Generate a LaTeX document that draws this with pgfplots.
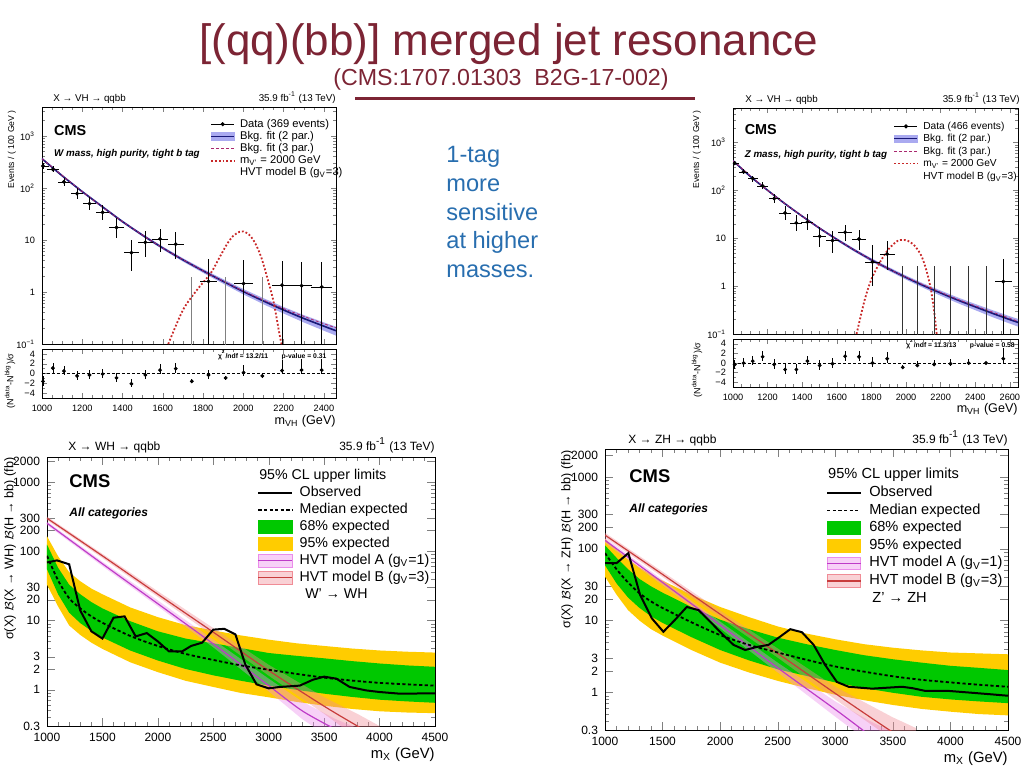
\documentclass[border=0pt]{standalone}
\usepackage{fontspec}
\setmainfont{Liberation Sans}
\usepackage{pgfplots}
\pgfplotsset{compat=1.18}
\definecolor{maroon}{RGB}{124,36,52}
\definecolor{txtblue}{RGB}{40,110,175}
\definecolor{bkgline}{RGB}{25,25,120}
\definecolor{bkgband}{RGB}{170,170,240}
\definecolor{fit3}{RGB}{170,40,110}
\definecolor{sigred}{RGB}{200,40,40}
\definecolor{cmsgreen}{RGB}{0,200,0}
\definecolor{cmsyellow}{RGB}{255,204,0}
\definecolor{hvtA}{RGB}{190,60,200}
\definecolor{hvtB}{RGB}{200,60,60}
\definecolor{hvtAband}{RGB}{235,140,235}
\definecolor{hvtBband}{RGB}{240,140,150}
\newcommand{\fs}[1]{\fontsize{#1}{#1}\selectfont}
\tikzset{tx/.style={inner sep=0pt}}
\begin{document}
\begin{tikzpicture}
\useasboundingbox (0pt,0pt) rectangle (512pt,-384pt);
% ---------------- titles ----------------
\node[tx, anchor=base, text=maroon, font=\fs{22}] at (254.5pt,-27.5pt) {[(qq)(bb)] merged jet resonance};
\node[tx, anchor=base, text=maroon, font=\fs{11.6}] at (250.5pt,-42.5pt) {(CMS:1707.01303\ \ B2G-17-002)};
\draw[maroon, line width=1.5pt] (177.5pt,-49.3pt) -- (347.5pt,-49.3pt);
\node[tx, anchor=base west, text=txtblue, font=\fs{11.8}] at (223pt,-81pt) {1-tag};
\node[tx, anchor=base west, text=txtblue, font=\fs{11.8}] at (223pt,-95.5pt) {more};
\node[tx, anchor=base west, text=txtblue, font=\fs{11.8}] at (223pt,-110pt) {sensitive};
\node[tx, anchor=base west, text=txtblue, font=\fs{11.8}] at (223pt,-124pt) {at higher};
\node[tx, anchor=base west, text=txtblue, font=\fs{11.8}] at (223pt,-138.5pt) {masses.};

% ================= TOP LEFT main =================
\begin{axis}[scale only axis, anchor=north west, tick align=inside, scaled ticks=false,
  axis line style={line width=0.4pt}, clip=true, legend cell align=left,
  major tick length=2.4pt, minor tick length=1.3pt,
  tick label style={font=\fs{4.6}}, minor x tick num=3,
  ymode=log, ymin=0.1, ymax=3600, xticklabels={},
  ytick={0.1,1,10,100,1000},
  yticklabels={10\textsuperscript{−1},1,10,10\textsuperscript{2},10\textsuperscript{3}},
  minor ytick={0.2,0.3,0.4,0.5,0.6,0.7,0.8,0.9,2,3,4,5,6,7,8,9,20,30,40,50,60,70,80,90,200,300,400,500,600,700,800,900,2000,3000},
  at={(21pt,-53.5pt)}, width=147pt, height=118.5pt,
  xmin=1000, xmax=2460, xtick={1000,1200,...,2400},
  legend style={at={(rel axis cs:0.571,0.955)}, anchor=north west, draw=none, fill=none,
    font=\fs{5.6}, row sep=0pt, column sep=2.5pt, inner sep=0pt,
    nodes={inner xsep=0pt, inner ysep=0.35pt, text height=4.2pt, text depth=1.2pt}}]
\addplot[draw=none, fill=bkgband, forget plot] coordinates {
(1000,383) (1100,180) (1200,89) (1300,45.7) (1400,23.7) (1500,13.0) (1600,7.45) (1700,4.46) (1800,2.77) (1900,1.76) (2000,1.14) (2100,0.76) (2200,0.515) (2300,0.36) (2400,0.26) (2460,0.215)
(2460,0.145) (2400,0.18) (2300,0.26) (2200,0.385) (2100,0.58) (2000,0.90) (1900,1.44) (1800,2.33) (1700,3.84) (1600,6.55) (1500,11.6) (1400,21.3) (1300,41.3) (1200,81) (1100,164) (1000,347)};
\addplot[bkgline, line width=0.8pt, smooth, forget plot] coordinates {
(1000,365) (1100,172) (1200,85) (1300,43.5) (1400,22.5) (1500,12.3) (1600,7.0) (1700,4.15) (1800,2.55) (1900,1.6) (2000,1.02) (2100,0.67) (2200,0.45) (2300,0.31) (2400,0.22) (2460,0.18)};
\addplot[fit3, dash pattern=on 1.5pt off 1pt, line width=0.4pt, smooth, forget plot] coordinates {
(1000,365) (1200,85) (1400,22.5) (1600,7.0) (1800,2.56) (1900,1.62) (2000,1.04) (2100,0.70) (2200,0.48) (2300,0.34) (2400,0.245) (2460,0.205)};
\addplot[sigred, densely dotted, line width=0.9pt, smooth, forget plot] coordinates {
(1627,0.1) (1700,0.45) (1770,1.1) (1838,2.3) (1880,4.5) (1920,8.5) (1950,12) (1980,14.3) (2000,14.6) (2030,12.5) (2060,8.5) (2090,4.5) (2120,1.8) (2150,0.65) (2180,0.15) (2195,0.08)};
\addplot[only marks, mark=*, mark size=0.75pt, black, forget plot,
  error bars/.cd, x dir=both, x explicit, y dir=both, y explicit,
  error bar style={line width=0.35pt}, error mark=none]
  table[row sep=\\, x=x, y=y, x error=ex, y error plus=ep, y error minus=em] {
x y ex em ep\\
1005 265 28 30 35\\
1054 228 28 28 32\\
1109 131 30 22 25\\
1174 78 32 17 20\\
1236 50 32 13 16\\
1301 34 34 10 13\\
1370 17.4 35 6.5 9\\
1444 5.7 36 3.2 4.1\\
1513 9.0 38 4.2 6\\
1586 10.5 40 4.5 5.5\\
1664 8.3 40 4 6\\
1827 1.6 43 1.55 2.8\\
2001 1.45 47 1.4 2.7\\
2192 1.35 50 1.3 2.6\\
2289 1.32 50 1.27 2.5\\
2389 1.25 52 1.2 2.5\\
};
\addplot[only marks, mark=*, mark size=0.75pt, gray, forget plot,
  error bars/.cd, y dir=plus, y explicit, error bar style={line width=0.35pt}, error mark=none]
  table[row sep=\\, x=x, y=y, y error plus=ep] {
x y ep\\
1744 0.01 1.9\\
1912 0.01 1.9\\
2094 0.01 1.9\\
};
\addlegendimage{legend image code/.code={\draw[black,line width=0.4pt] (0pt,0pt)--(11.5pt,0pt); \fill[black] (5.75pt,0pt) circle (0.8pt);}}
\addlegendentry{Data (369 events)}
\addlegendimage{legend image code/.code={\fill[bkgband] (0pt,-2pt) rectangle (11.5pt,2pt); \draw[bkgline,line width=0.8pt] (0pt,0pt)--(11.5pt,0pt);}}
\addlegendentry{Bkg. fit (2 par.)}
\addlegendimage{legend image code/.code={\draw[fit3,dash pattern=on 1.5pt off 1pt,line width=0.4pt] (0pt,0pt)--(11.5pt,0pt);}}
\addlegendentry{Bkg. fit (3 par.)}
\addlegendimage{legend image code/.code={\draw[sigred,densely dotted,line width=0.9pt] (0pt,0pt)--(11.5pt,0pt);}}
\addlegendentry{m\textsubscript{V'} = 2000 GeV}
\addlegendimage{empty legend}
\addlegendentry{HVT model B (g\textsubscript{V}=3)}
\node[tx, anchor=base west, font=\bfseries\fs{7.2}] at (rel axis cs:0.04,0.88) {CMS};
\node[tx, anchor=base west, font=\bfseries\itshape\fs{4.9}] at (rel axis cs:0.04,0.79) {W mass, high purity, tight b tag};
\end{axis}
% ratio TL
\begin{axis}[scale only axis, anchor=north west, tick align=inside, scaled ticks=false,
  axis line style={line width=0.4pt}, clip=true,
  major tick length=2.4pt, minor tick length=1.3pt,
  tick label style={font=\fs{4.6}}, minor x tick num=3,
  ymin=-5, ymax=5, ytick={-4,-2,0,2,4}, yticklabels={−4,−2,0,2,4}, minor y tick num=1,
  at={(21pt,-174.5pt)}, width=147pt, height=24.5pt,
  xmin=1000, xmax=2460, xtick={1000,1200,...,2400},
  xticklabels={1000,1200,1400,1600,1800,2000,2200,2400}]
\addplot[black, dash pattern=on 1.5pt off 1pt, line width=0.4pt, forget plot] coordinates {(1000,0) (2460,0)};
\addplot[only marks, mark=*, mark size=0.75pt, black, forget plot,
  error bars/.cd, y dir=both, y explicit, error bar style={line width=0.35pt}, error mark=none]
  table[row sep=\\, x=x, y=y, y error plus=ep, y error minus=em] {
x y em ep\\
1005 -1.6 0.9 1.0\\
1054 1.1 0.9 1.1\\
1109 0.5 0.9 1.1\\
1174 -0.5 0.9 1.1\\
1236 -0.3 0.9 1.1\\
1301 -0.1 0.9 1.1\\
1370 -0.9 0.9 1.1\\
1444 -2.1 0.7 1.0\\
1513 -0.3 0.9 1.1\\
1586 0.7 0.9 1.2\\
1664 1.0 0.9 1.2\\
1744 -1.6 0.4 0.4\\
1827 -0.3 0.8 1.1\\
1912 -0.9 0.4 0.4\\
2001 0.2 0.8 1.6\\
2094 -0.5 0.4 0.4\\
2192 0.6 0.8 2.2\\
2289 0.7 0.8 2.2\\
2389 0.7 0.8 2.2\\
};
\node[tx, anchor=base east, font=\bfseries\fs{3.4}] at (rel axis cs:0.969,0.816) {χ\textsuperscript{2}/ndf = 13.2/11\quad\quad p-value = 0.31};
\end{axis}

% ================= TOP RIGHT main =================
\begin{axis}[scale only axis, anchor=north west, tick align=inside, scaled ticks=false,
  axis line style={line width=0.4pt}, clip=true, legend cell align=left,
  major tick length=2.4pt, minor tick length=1.3pt,
  tick label style={font=\fs{4.6}}, minor x tick num=3,
  ymode=log, ymin=0.1, ymax=5300, xticklabels={},
  ytick={0.1,1,10,100,1000},
  yticklabels={10\textsuperscript{−1},1,10,10\textsuperscript{2},10\textsuperscript{3}},
  minor ytick={0.2,0.3,0.4,0.5,0.6,0.7,0.8,0.9,2,3,4,5,6,7,8,9,20,30,40,50,60,70,80,90,200,300,400,500,600,700,800,900,2000,3000,4000,5000},
  at={(366.5pt,-54pt)}, width=142.5pt, height=113pt,
  xmin=1000, xmax=2647, xtick={1000,1200,...,2600},
  legend style={at={(rel axis cs:0.562,0.948)}, anchor=north west, draw=none, fill=none,
    font=\fs{5.1}, row sep=0pt, column sep=2.5pt, inner sep=0pt,
    nodes={inner xsep=0pt, inner ysep=0.3pt, text height=4.4pt, text depth=1.2pt}}]
\addplot[draw=none, fill=bkgband, forget plot] coordinates {
(1000,436) (1100,205) (1200,105) (1300,55.2) (1400,30.2) (1500,17.1) (1600,10.1) (1700,6.1) (1800,3.83) (1900,2.5) (2000,1.67) (2100,1.14) (2200,0.81) (2300,0.58) (2400,0.425) (2500,0.315) (2600,0.235) (2647,0.207)
(2647,0.143) (2600,0.165) (2500,0.225) (2400,0.315) (2300,0.44) (2200,0.63) (2100,0.92) (2000,1.37) (1900,2.1) (1800,3.27) (1700,5.3) (1600,8.9) (1500,15.5) (1400,27.8) (1300,50.8) (1200,97) (1100,189) (1000,404)};
\addplot[bkgline, line width=0.8pt, smooth, forget plot] coordinates {
(1000,420) (1100,197) (1200,101) (1300,53) (1400,29) (1500,16.3) (1600,9.5) (1700,5.7) (1800,3.55) (1900,2.3) (2000,1.52) (2100,1.03) (2200,0.72) (2300,0.51) (2400,0.37) (2500,0.27) (2600,0.2) (2647,0.175)};
\addplot[fit3, dash pattern=on 1.5pt off 1pt, line width=0.4pt, smooth, forget plot] coordinates {
(1000,420) (1200,101) (1400,29) (1600,9.5) (1800,3.56) (2000,1.54) (2300,0.53) (2647,0.185)};
\addplot[sigred, densely dotted, line width=0.9pt, smooth, forget plot] coordinates {
(1714,0.1) (1760,0.5) (1800,1.4) (1850,3.2) (1900,6) (1950,8.8) (1980,9.2) (2010,8.9) (2050,7) (2090,4.2) (2120,2) (2145,0.8) (2165,0.25) (2180,0.08)};
\addplot[only marks, mark=*, mark size=0.75pt, black, forget plot,
  error bars/.cd, x dir=both, x explicit, y dir=both, y explicit,
  error bar style={line width=0.35pt}, error mark=none]
  table[row sep=\\, x=x, y=y, x error=ex, y error plus=ep, y error minus=em] {
x y ex em ep\\
1010 370 26 35 40\\
1061 245 27 28 32\\
1114 178 28 24 27\\
1171 125 30 20 23\\
1238 68 32 14 17\\
1301 34 33 10 13\\
1366 21 34 7 10\\
1430 22 35 7 10\\
1501 11 37 4.5 6.5\\
1575 9 38 4 5.5\\
1648 13.4 40 4.5 6\\
1728 9.7 41 4 5.5\\
1806 3.2 43 2.2 4\\
1891 4.7 44 2.5 4\\
2562 1.25 50 1.2 2.5\\
};
\addplot[only marks, mark=*, mark size=0.75pt, black!80, forget plot,
  error bars/.cd, y dir=plus, y explicit, error bar style={line width=0.35pt}, error mark=none]
  table[row sep=\\, x=x, y=y, y error plus=ep] {
x y ep\\
1981 0.01 2.6\\
2065 0.01 2.6\\
2162 0.01 2.6\\
2257 0.01 2.6\\
2362 0.01 2.6\\
2462 0.01 2.6\\
};
\addlegendimage{legend image code/.code={\draw[black,line width=0.4pt] (0pt,0pt)--(11.5pt,0pt); \fill[black] (5.75pt,0pt) circle (0.8pt);}}
\addlegendentry{Data (466 events)}
\addlegendimage{legend image code/.code={\fill[bkgband] (0pt,-1.8pt) rectangle (11.5pt,1.8pt); \draw[bkgline,line width=0.7pt] (0pt,0pt)--(11.5pt,0pt);}}
\addlegendentry{Bkg. fit (2 par.)}
\addlegendimage{legend image code/.code={\draw[fit3,dash pattern=on 1.5pt off 1pt,line width=0.6pt] (0pt,0pt)--(11.5pt,0pt);}}
\addlegendentry{Bkg. fit (3 par.)}
\addlegendimage{legend image code/.code={\draw[sigred,densely dotted,line width=0.9pt] (0pt,0pt)--(11.5pt,0pt);}}
\addlegendentry{m\textsubscript{V'} = 2000 GeV}
\addlegendimage{empty legend}
\addlegendentry{HVT model B (g\textsubscript{V}=3)}
\node[tx, anchor=base west, font=\bfseries\fs{7.2}] at (rel axis cs:0.04,0.885) {CMS};
\node[tx, anchor=base west, font=\bfseries\itshape\fs{4.9}] at (rel axis cs:0.04,0.78) {Z mass, high purity, tight b tag};
\end{axis}
% ratio TR
\begin{axis}[scale only axis, anchor=north west, tick align=inside, scaled ticks=false,
  axis line style={line width=0.4pt}, clip=true,
  major tick length=2.4pt, minor tick length=1.3pt,
  tick label style={font=\fs{4.6}}, minor x tick num=3,
  ymin=-5, ymax=5, ytick={-4,-2,0,2,4}, yticklabels={−4,−2,0,2,4}, minor y tick num=1,
  at={(366.5pt,-169.5pt)}, width=142.5pt, height=24pt,
  xmin=1000, xmax=2647, xtick={1000,1200,...,2600},
  xticklabels={1000,1200,1400,1600,1800,2000,2200,2400,2600}]
\addplot[black, dash pattern=on 1.5pt off 1pt, line width=0.4pt, forget plot] coordinates {(1000,0) (2647,0)};
\addplot[only marks, mark=*, mark size=0.75pt, black, forget plot,
  error bars/.cd, y dir=both, y explicit, error bar style={line width=0.35pt}, error mark=none]
  table[row sep=\\, x=x, y=y, y error plus=ep, y error minus=em] {
x y em ep\\
1010 -0.3 0.9 1.0\\
1061 0.0 0.9 1.0\\
1114 0.4 0.9 1.1\\
1171 1.3 0.9 1.1\\
1238 -0.3 0.9 1.1\\
1301 -1.35 0.9 1.1\\
1366 -1.35 0.9 1.1\\
1430 0.4 0.9 1.1\\
1501 -0.5 0.9 1.1\\
1575 -0.15 0.9 1.1\\
1648 1.4 0.9 1.2\\
1728 1.3 0.9 1.2\\
1806 0.0 0.9 1.3\\
1891 0.9 0.9 1.3\\
1981 -0.9 0.4 0.4\\
2065 -0.5 0.4 0.9\\
2162 -0.3 0.4 0.9\\
2257 -0.15 0.4 0.9\\
2362 0.0 0.4 0.9\\
2462 0.0 0.3 0.3\\
2562 0.9 0.8 2.2\\
};
\node[tx, anchor=base east, font=\bfseries\fs{3.4}] at (rel axis cs:0.99,0.833) {χ\textsuperscript{2}/ndf = 11.3/13\quad\quad p-value = 0.58};
\end{axis}

% ================= BOTTOM LEFT =================
\begin{axis}[scale only axis, anchor=north west, tick align=inside, scaled ticks=false,
  axis line style={line width=0.4pt}, clip=true, legend cell align=left,
  xmin=1000, xmax=4500, ymode=log, ymin=0.3, ymax=2300,
  major tick length=4pt, minor tick length=2pt,
  tick label style={font=\fs{6}},
  xtick={1000,1500,...,4500}, minor x tick num=4,
  xticklabels={1000,1500,2000,2500,3000,3500,4000,4500},
  ytick={0.3,1,2,3,10,20,30,100,200,300,1000,2000},
  yticklabels={0.3,1,2,3,10,20,30,100,200,300,1000,2000},
  minor ytick={0.4,0.5,0.6,0.7,0.8,0.9,4,5,6,7,8,9,40,50,60,70,80,90,400,500,600,700,800,900},
  at={(23.5pt,-228.5pt)}, width=194pt, height=134.5pt,
  legend style={at={(rel axis cs:0.541,0.9606)}, anchor=north west, draw=none, fill=none,
    font=\fs{7.1}, row sep=0.7pt, column sep=3.2pt, inner sep=0pt,
    nodes={inner xsep=0pt, inner ysep=0.4pt, text height=5.3pt, text depth=1.7pt}}]
\addplot[draw=none, fill=cmsyellow, forget plot] coordinates {
(1000,165) (1100,85) (1200,50) (1300,37) (1400,29) (1500,24) (1750,15.5) (2000,11.2) (2250,8.6) (2500,7.2) (2750,6.1) (3000,5.3) (3250,4.7) (3500,4.3) (3750,3.95) (4000,3.7) (4250,3.55) (4500,3.45)
(4500,0.46) (4250,0.47) (4000,0.49) (3750,0.53) (3500,0.59) (3250,0.67) (3000,0.78) (2750,0.9) (2500,1.1) (2250,1.35) (2000,1.8) (1750,2.5) (1500,3.9) (1400,4.8) (1300,6.2) (1200,8.5) (1100,16) (1000,33)};
\addplot[draw=none, fill=cmsgreen, forget plot] coordinates {
(1000,125) (1100,58) (1200,33) (1300,24) (1400,18.5) (1500,15) (1750,9.8) (2000,7.0) (2250,5.5) (2500,4.7) (2750,4.0) (3000,3.4) (3250,3.1) (3500,2.85) (3750,2.6) (4000,2.4) (4250,2.25) (4500,2.15)
(4500,0.65) (4250,0.68) (4000,0.72) (3750,0.79) (3500,0.88) (3250,1.0) (3000,1.15) (2750,1.35) (2500,1.62) (2250,2.0) (2000,2.65) (1750,3.7) (1500,5.7) (1400,7.1) (1300,9.2) (1200,13) (1100,24) (1000,55)};
\addplot[draw=none, fill=hvtAband, fill opacity=0.4, forget plot] coordinates {
(1000,270) (1500,71) (2000,19.5) (2500,5.3) (3000,1.45) (3300,0.68) (3600,0.38) (3800,0.28)
(3800,0.12) (3600,0.18) (3300,0.38) (3000,0.95) (2500,4.1) (2000,16) (1500,61) (1000,240)};
\addplot[draw=none, fill=hvtBband, fill opacity=0.4, forget plot] coordinates {
(1000,318) (1500,92) (2000,26.5) (2500,7.8) (3000,2.3) (3500,0.78) (3800,0.45) (4000,0.3)
(4000,0.12) (3800,0.2) (3500,0.45) (3000,1.6) (2500,6.0) (2000,22) (1500,80) (1000,282)};
\addplot[hvtA, line width=0.6pt, smooth, forget plot] coordinates {
(1000,255) (1500,66) (2000,17.5) (2500,4.6) (3000,1.15) (3300,0.5) (3600,0.27)};
\addplot[hvtB, line width=0.6pt, smooth, forget plot] coordinates {
(1000,300) (1500,86) (2000,24) (2500,6.8) (3000,1.9) (3500,0.58) (3800,0.3) (3900,0.24)};
\addplot[black, line width=0.9pt, dash pattern=on 1.6pt off 1.2pt, smooth, forget plot] coordinates {
(1000,86) (1100,38) (1200,21) (1300,15) (1400,11.5) (1500,9.3) (1750,6.0) (2000,4.3) (2250,3.3) (2500,2.7) (2750,2.25) (3000,1.95) (3250,1.7) (3500,1.5) (3750,1.36) (4000,1.26) (4250,1.2) (4500,1.15)};
\addplot[black, line width=1pt, forget plot] coordinates {
(1000,69) (1090,74) (1200,65) (1300,14) (1400,7) (1500,5.5) (1600,11) (1700,11.5) (1800,5.9) (1900,6.6) (2000,5.0) (2100,3.6) (2220,3.6) (2300,4.3) (2400,4.8) (2500,7.4) (2600,7.6) (2700,6.3) (2790,2.3) (2890,1.2) (3000,1.05) (3100,1.1) (3280,1.15) (3400,1.4) (3500,1.55) (3610,1.45) (3730,1.1) (3880,0.98) (4000,0.93) (4180,0.88) (4500,0.89)};
\addlegendimage{empty legend}
\addlegendentry{\hspace*{-20.2pt}95\% CL upper limits}
\addlegendimage{legend image code/.code={\draw[black,line width=1pt] (0pt,0pt)--(17pt,0pt);}}
\addlegendentry{Observed}
\addlegendimage{legend image code/.code={\draw[black,line width=0.9pt,dash pattern=on 1.6pt off 1.2pt] (0pt,0pt)--(17pt,0pt);}}
\addlegendentry{Median expected}
\addlegendimage{legend image code/.code={\fill[cmsgreen] (0pt,-3.2pt) rectangle (17pt,3.2pt);}}
\addlegendentry{68\% expected}
\addlegendimage{legend image code/.code={\fill[cmsyellow] (0pt,-3.2pt) rectangle (17pt,3.2pt);}}
\addlegendentry{95\% expected}
\addlegendimage{legend image code/.code={\fill[hvtAband,fill opacity=0.4] (0pt,-3.2pt) rectangle (17pt,3.2pt); \draw[hvtA,line width=0.6pt] (0pt,0pt)--(17pt,0pt);}}
\addlegendentry{HVT model A (g\textsubscript{V}=1)}
\addlegendimage{legend image code/.code={\fill[hvtBband,fill opacity=0.4] (0pt,-3.2pt) rectangle (17pt,3.2pt); \draw[hvtB,line width=0.6pt] (0pt,0pt)--(17pt,0pt);}}
\addlegendentry{HVT model B (g\textsubscript{V}=3)}
\addlegendimage{empty legend}
\addlegendentry{\hspace*{2.8pt}W' → WH}
\end{axis}

% ================= BOTTOM RIGHT =================
\begin{axis}[scale only axis, anchor=north west, tick align=inside, scaled ticks=false,
  axis line style={line width=0.4pt}, clip=true, legend cell align=left,
  xmin=1000, xmax=4500, ymode=log, ymin=0.3, ymax=2450,
  major tick length=4pt, minor tick length=2pt,
  tick label style={font=\fs{6}},
  xtick={1000,1500,...,4500}, minor x tick num=4,
  xticklabels={1000,1500,2000,2500,3000,3500,4000,4500},
  ytick={0.3,1,2,3,10,20,30,100,200,300,1000,2000},
  yticklabels={0.3,1,2,3,10,20,30,100,200,300,1000,2000},
  minor ytick={0.4,0.5,0.6,0.7,0.8,0.9,4,5,6,7,8,9,40,50,60,70,80,90,400,500,600,700,800,900},
  at={(302.5pt,-224.5pt)}, width=201.5pt, height=140.5pt,
  legend style={at={(rel axis cs:0.548,0.936)}, anchor=north west, draw=none, fill=none,
    font=\fs{7.3}, row sep=0.8pt, column sep=3.8pt, inner sep=0pt,
    nodes={inner xsep=0pt, inner ysep=0.4pt, text height=5.4pt, text depth=1.8pt}}]
\addplot[draw=none, fill=cmsyellow, forget plot] coordinates {
(1000,138) (1100,98) (1200,72) (1300,55) (1400,44) (1500,36) (1750,23) (2000,15.5) (2250,11.2) (2500,8.3) (2750,6.6) (3000,5.5) (3250,4.7) (3500,4.2) (3750,3.85) (4000,3.6) (4250,3.5) (4500,3.4)
(4500,0.48) (4250,0.5) (4000,0.54) (3750,0.59) (3500,0.67) (3250,0.78) (3000,0.93) (2750,1.15) (2500,1.45) (2250,1.9) (2000,2.6) (1750,3.9) (1500,6.2) (1400,7.6) (1300,10) (1200,14) (1100,23) (1000,41)};
\addplot[draw=none, fill=cmsgreen, forget plot] coordinates {
(1000,112) (1100,75) (1200,52) (1300,38) (1400,30) (1500,24.5) (1750,15.5) (2000,10.3) (2250,7.6) (2500,5.8) (2750,4.7) (3000,3.9) (3250,3.3) (3500,2.9) (3750,2.6) (4000,2.35) (4250,2.2) (4500,2.05)
(4500,0.71) (4250,0.75) (4000,0.8) (3750,0.87) (3500,0.99) (3250,1.15) (3000,1.38) (2750,1.7) (2500,2.1) (2250,2.8) (2000,3.9) (1750,5.9) (1500,9.3) (1400,11.5) (1300,15) (1200,21) (1100,33) (1000,59)};
\addplot[draw=none, fill=hvtAband, fill opacity=0.4, forget plot] coordinates {
(1000,142) (1500,37) (2000,9.7) (2500,2.6) (3000,0.75) (3300,0.4) (3500,0.28)
(3500,0.12) (3300,0.2) (3000,0.46) (2500,1.9) (2000,7.8) (1500,31) (1000,121)};
\addplot[draw=none, fill=hvtBband, fill opacity=0.4, forget plot] coordinates {
(1000,167) (1500,48) (2000,13.8) (2500,4.1) (3000,1.2) (3500,0.45) (3700,0.32)
(3700,0.12) (3500,0.22) (3000,0.8) (2500,3.05) (2000,11) (1500,40.5) (1000,144)};
\addplot[hvtA, line width=0.6pt, smooth, forget plot] coordinates {
(1000,131) (1500,34) (2000,8.7) (2500,2.2) (3000,0.58) (3250,0.29) (3300,0.25)};
\addplot[hvtB, line width=0.6pt, smooth, forget plot] coordinates {
(1000,155) (1500,44) (2000,12.3) (2500,3.5) (3000,0.97) (3470,0.3) (3550,0.26)};
\addplot[black, line width=0.9pt, dash pattern=on 1.6pt off 1.2pt, smooth, forget plot] coordinates {
(1000,87) (1100,52) (1200,34) (1300,24) (1400,18.5) (1500,15) (1750,9.5) (2000,6.3) (2250,4.6) (2500,3.6) (2750,2.85) (3000,2.3) (3250,1.95) (3500,1.68) (3750,1.5) (4000,1.38) (4250,1.28) (4500,1.2)};
\addplot[black, line width=1pt, forget plot] coordinates {
(1000,63) (1100,63) (1203,87) (1304,23) (1406,10.8) (1507,7.0) (1609,10.3) (1710,15.5) (1812,14) (1913,9.7) (2014,6.6) (2116,4.6) (2217,3.9) (2319,4.3) (2420,4.6) (2522,6.0) (2609,7.6) (2710,6.9) (2812,4.6) (2913,2.4) (3014,1.4) (3116,1.2) (3319,1.13) (3580,1.2) (3667,1.15) (3783,1.05) (3986,1.05) (4188,0.99) (4362,0.94) (4500,0.9)};
\addlegendimage{empty legend}
\addlegendentry{\hspace*{-20.5pt}95\% CL upper limits}
\addlegendimage{legend image code/.code={\draw[black,line width=1pt] (0pt,0pt)--(16.7pt,0pt);}}
\addlegendentry{Observed}
\addlegendimage{legend image code/.code={\draw[black,line width=0.9pt,dash pattern=on 1.6pt off 1.2pt] (0pt,0pt)--(16.7pt,0pt);}}
\addlegendentry{Median expected}
\addlegendimage{legend image code/.code={\fill[cmsgreen] (0pt,-3.2pt) rectangle (16.7pt,3.2pt);}}
\addlegendentry{68\% expected}
\addlegendimage{legend image code/.code={\fill[cmsyellow] (0pt,-3.2pt) rectangle (16.7pt,3.2pt);}}
\addlegendentry{95\% expected}
\addlegendimage{legend image code/.code={\fill[hvtAband,fill opacity=0.4] (0pt,-3.2pt) rectangle (16.7pt,3.2pt); \draw[hvtA,line width=0.6pt] (0pt,0pt)--(16.7pt,0pt);}}
\addlegendentry{HVT model A (g\textsubscript{V}=1)}
\addlegendimage{legend image code/.code={\fill[hvtBband,fill opacity=0.4] (0pt,-3.2pt) rectangle (16.7pt,3.2pt); \draw[hvtB,line width=0.6pt] (0pt,0pt)--(16.7pt,0pt);}}
\addlegendentry{HVT model B (g\textsubscript{V}=3)}
\addlegendimage{empty legend}
\addlegendentry{\hspace*{1.6pt}Z' → ZH}
\end{axis}

% ---------------- panel texts ----------------
\node[tx, anchor=base west, font=\fs{4.9}] at (26.5pt,-50.5pt) {X → VH → qqbb};
\node[tx, anchor=base east, font=\fs{4.9}] at (168pt,-50.5pt) {35.9 fb\textsuperscript{-1} (13 TeV)};
\node[tx, rotate=90, anchor=east, font=\fs{4.3}] at (6pt,-55pt) {Events / ( 100 GeV )};
\node[tx, rotate=90, anchor=center, font=\fs{4.5}] at (5pt,-190.5pt) {(N\textsuperscript{data}-N\textsuperscript{bkg})/σ};
\node[tx, anchor=base east, font=\fs{6.3}] at (168pt,-212pt) {m\textsubscript{VH} (GeV)};

\node[tx, anchor=base west, font=\fs{4.9}] at (372.5pt,-51pt) {X → VH → qqbb};
\node[tx, anchor=base east, font=\fs{4.9}] at (510pt,-51pt) {35.9 fb\textsuperscript{-1} (13 TeV)};
\node[tx, rotate=90, anchor=east, font=\fs{4.3}] at (348.5pt,-55pt) {Events / ( 100 GeV )};
\node[tx, rotate=90, anchor=center, font=\fs{4.5}] at (348.5pt,-185pt) {(N\textsuperscript{data}-N\textsuperscript{bkg})/σ};
\node[tx, anchor=base east, font=\fs{6.3}] at (509pt,-206pt) {m\textsubscript{VH} (GeV)};

\node[tx, anchor=base west, font=\fs{6}] at (34pt,-225pt) {X → WH → qqbb};
\node[tx, anchor=base east, font=\fs{6}] at (217.5pt,-225pt) {35.9 fb\textsuperscript{-1} (13 TeV)};
\node[tx, anchor=base west, font=\bfseries\fs{9.2}] at (34.5pt,-243.5pt) {CMS};
\node[tx, anchor=base west, font=\bfseries\itshape\fs{6}] at (34.5pt,-258pt) {All categories};
\node[tx, rotate=90, anchor=east, font=\fs{6.3}] at (5pt,-228.5pt) {σ(X) $\mathcal{B}$(X → WH) $\mathcal{B}$(H → bb) (fb)};
\node[tx, anchor=base east, font=\fs{7.4}] at (217.5pt,-379pt) {m\textsubscript{X} (GeV)};

\node[tx, anchor=base west, font=\fs{6}] at (314pt,-221.5pt) {X → ZH → qqbb};
\node[tx, anchor=base east, font=\fs{6}] at (504pt,-221.5pt) {35.9 fb\textsuperscript{-1} (13 TeV)};
\node[tx, anchor=base west, font=\bfseries\fs{9.2}] at (314.5pt,-241pt) {CMS};
\node[tx, anchor=base west, font=\bfseries\itshape\fs{6}] at (314.5pt,-256pt) {All categories};
\node[tx, rotate=90, anchor=east, font=\fs{6.3}] at (283.5pt,-225pt) {σ(X) $\mathcal{B}$(X → ZH) $\mathcal{B}$(H → bb) (fb)};
\node[tx, anchor=base east, font=\fs{7.4}] at (504pt,-381pt) {m\textsubscript{X} (GeV)};
\end{tikzpicture}
\end{document}
